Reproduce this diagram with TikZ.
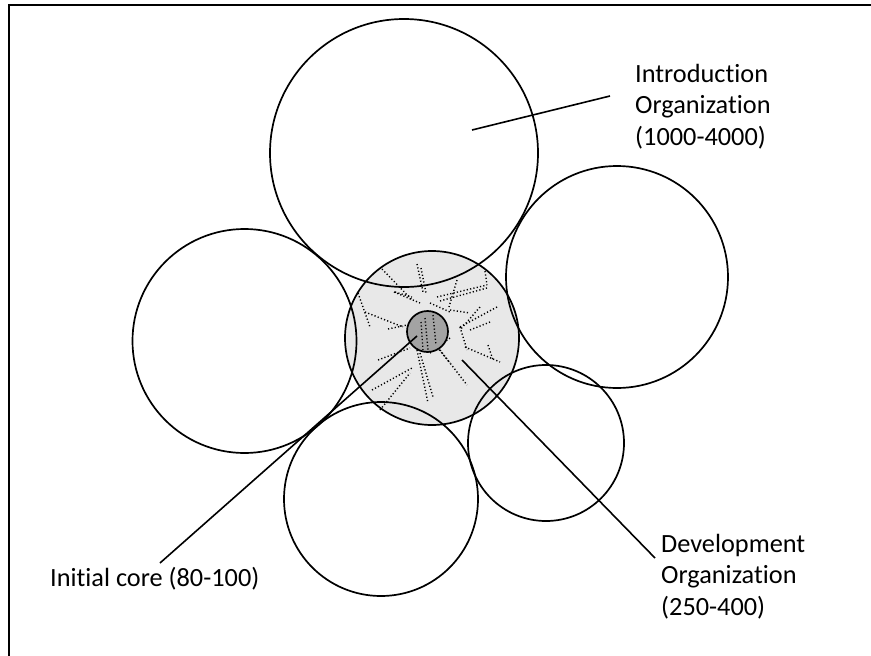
\documentclass[tikz,border=0pt]{standalone}
\usepackage{fontspec}
\setmainfont{Carlito}[Ligatures=NoCommon]
\definecolor{devfill}{HTML}{E8E8E8}
\definecolor{corefill}{HTML}{A3A3A3}
\begin{document}
\begin{tikzpicture}[x=1pt,y=-1pt,
  ring/.style={draw=black,line width=1.7pt},
  trace/.style={draw=black,line width=1.4pt,dash pattern=on 1.2pt off 2.2pt},
  leader/.style={draw=black,line width=1.6pt},
  lbl/.style={font=\fontsize{26.3}{31.5}\selectfont,align=left,inner sep=0pt,anchor=base west}]
\useasboundingbox (0,0) rectangle (871,656);
% frame
\draw[line width=2pt,line join=miter] (9,656) -- (9,5) -- (871,5);

% development organization with its informal ties
\fill[devfill] (432,338) circle[radius=87];
\foreach \a/\b in {
  {382,269}/{412,300}, {394,292}/{420,303}, {417,264}/{423,292}, {421,268}/{426,293},
  {437,297}/{487,285}, {440,301}/{487,288}, {485,271}/{487,285}, {457,280}/{449,307},
  {358,293}/{370,327}, {365,312}/{403,327}, {388,329}/{407,325}, {497,307}/{460,327},
  {480,307}/{460,330}, {460,327}/{467,350}, {465,347}/{500,362}, {488,345}/{493,360},
  {450,338}/{430,353}, {378,360}/{410,348}, {372,390}/{412,368}, {380,410}/{410,373},
  {417,350}/{428,403}, {420,353}/{433,397}, {440,350}/{467,385}, {437,347}/{450,363},
  {430,303}/{450,312}, {450,310}/{470,313}, {395,292}/{412,297}, {470,330}/{490,322}}
  \draw[trace] (\a) -- (\b);
\draw[ring] (432,338) circle[radius=87];

% initial core
\node[circle,draw=black,line width=1.7pt,fill=corefill,minimum size=41pt,inner sep=0pt] (core) at (427.5,331.5) {};
\foreach \a/\b in {{425,318}/{428,350}, {421,322}/{423,350}, {433,315}/{436,345}}
  \draw[trace] (\a) -- (\b);

% introduction organization and the surrounding groups
\draw[ring] (404,153) circle[radius=134];
\draw[ring] (617,277) circle[radius=111];
\draw[ring] (244.5,341) circle[radius=112];
\draw[ring] (381,499) circle[radius=97];
\draw[ring] (546,443) circle[radius=78];

% labels (base anchor sits on the last line)
\node[lbl] (intro) at (635,145) {Introduction\\Organization\\(1000-4000)};
\node[lbl] (dev) at (661,615) {Development\\Organization\\(250-400)};
\node[lbl] (init) at (50,586) {Initial core (80-100)};

% leader lines
\coordinate (introTip) at (472,130);
\coordinate (introEnd) at (610,96);
\coordinate (devTip) at (462,360);
\coordinate (devEnd) at (655,558);
\coordinate (coreTip) at (417,336);
\coordinate (coreEnd) at (160,563);
\draw[leader] (introTip) -- (introEnd);
\draw[leader] (devTip) -- (devEnd);
\draw[leader] (coreTip) -- (coreEnd);
\end{tikzpicture}
\end{document}
